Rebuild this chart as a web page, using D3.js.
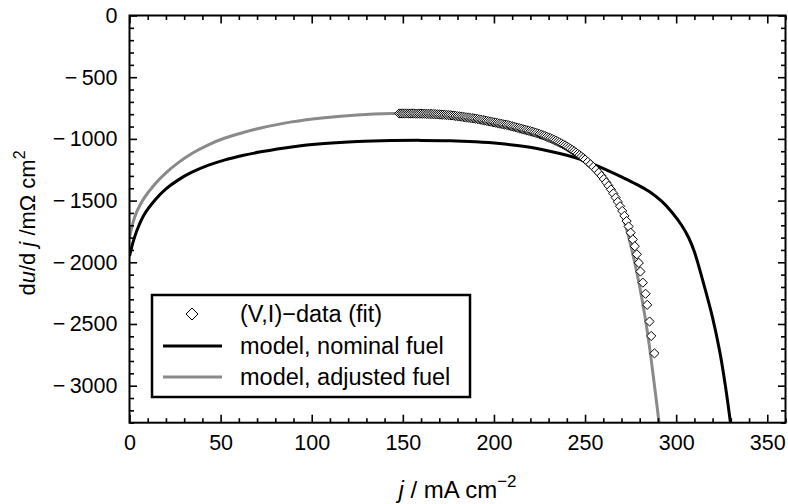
<!DOCTYPE html>
<html><head><meta charset="utf-8">
<script src="https://cdn.jsdelivr.net/npm/d3@7"></script>
<style>body{margin:0;background:#fff}svg{display:block}text{font-family:"Liberation Sans",Arial,sans-serif}</style>
</head><body>
<svg id="c" width="788" height="504"></svg>
<script>
// ---- data ----
const nominalJ = [0, 2, 4, 8, 14, 20, 27, 34, 43, 52, 62, 72, 89, 107, 125, 144, 160, 176, 190, 203, 217, 230, 240, 247, 255, 262, 270, 278, 285, 292, 298, 303, 307, 310, 315, 320, 324, 327, 329.8, 331];
const nominalV = [-1950, -1835, -1745, -1615, -1495, -1405, -1330, -1272, -1215, -1172, -1135, -1105, -1065, -1038, -1022, -1014, -1012, -1015, -1024, -1038, -1062, -1098, -1133, -1163, -1208, -1253, -1308, -1366, -1425, -1505, -1600, -1700, -1805, -1915, -2170, -2450, -2730, -3000, -3300, -3450];
const adjustedJ = [0, 2, 4, 8, 14, 20, 27, 34, 43, 52, 62, 72, 89, 107, 125, 144, 160, 176, 190, 203, 215, 225, 235, 242, 248, 253, 258, 263, 268, 272, 276, 280, 283, 285.5, 287.5, 289.2, 290.6, 292];
const adjustedV = [-1800, -1675, -1590, -1480, -1365, -1275, -1190, -1120, -1050, -995, -950, -912, -862, -828, -806, -795, -795, -806, -833, -870, -912, -960, -1025, -1085, -1150, -1220, -1300, -1400, -1520, -1690, -1920, -2200, -2450, -2700, -2930, -3130, -3300, -3480];
const dataJ = [148,149,150,151,152,153,154,155,156,157,158,159,160,161,162,163,164,165,166,167,168,169,170,171,172,173,174,175,176,177,178,179,180,181,182,183,184,185,186,187,188,189,190,191,192,193,194,195,196,197,198,199,200,201,202,203,204,205,206,207,208,209,210,211,212,213,214,215,216,217,218,219,220,221,222,223,224,225,226,227,228,229,230,231,232,233,234,235,236,237,238,239,240,241,242,243,244,245,246,247,248,249,250,251.5,253,254.5,256,257.5,259,260.3,261.6,262.9,264.2,265.5,266.8,268,269.2,270.4,271.6,272.8,273.9,275,276.2,277.3,278.4,279.5,280.4,281.7,283.2,284.1,285.4,286.3,288.1];
const dataV = [-794,-794,-794,-794,-794,-794,-794,-794,-794,-795,-795,-795,-795,-796,-796,-797,-797,-798,-798,-799,-800,-801,-802,-803,-804,-805,-806,-807,-808,-810,-812,-814,-816,-818,-820,-822,-824,-826,-828,-830,-832,-834,-836,-839,-842,-845,-848,-851,-854,-857,-860,-863,-866,-869,-872,-875,-878,-881,-884,-887,-890,-894,-898,-902,-906,-910,-914,-918,-922,-926,-930,-934,-938,-942,-946,-951,-956,-961,-966,-971,-977,-983,-989,-995,-1001,-1008,-1015,-1022,-1029,-1037,-1045,-1053,-1062,-1071,-1080,-1090,-1100,-1110,-1121,-1132,-1143,-1155,-1167,-1186,-1206,-1227,-1250,-1274,-1300,-1325,-1352,-1380,-1410,-1442,-1476,-1510,-1546,-1584,-1624,-1666,-1710,-1760,-1815,-1870,-1935,-2005,-2075,-2165,-2255,-2345,-2480,-2597,-2738];
const xMajor = [0, 50, 100, 150, 200, 250, 300, 350];
const yMajor = [0, -500, -1000, -1500, -2000, -2500, -3000];
const legendLabels = ["(V,I)\u2212data (fit)", "model, nominal fuel", "model, adjusted fuel"];

// ---- layout ----
const svg = d3.select("#c");
const L = 129.5, R = 785.5, T = 15.5, B = 422.7;
const x = d3.scaleLinear([0, 360], [L, R]);
const y = d3.scaleLinear([-3300, 0], [B, T]);
const xMinor = d3.range(0, 361, 10).filter(v => v % 50 !== 0);
const yMinor = d3.range(-3300, 1, 100).filter(v => v % 500 !== 0);
const fmt = d => d < 0 ? "\u2212\u2009" + Math.abs(d) : String(d);

svg.append("defs").append("clipPath").attr("id", "clip")
  .append("rect").attr("x", L).attr("y", T).attr("width", R - L).attr("height", B - T);

// curves
const line = d3.line().x(d => x(d[0])).y(d => y(d[1])).curve(d3.curveCatmullRom.alpha(0.5));
const g = svg.append("g").attr("clip-path", "url(#clip)");
g.append("path").datum(nominalJ.map((j, i) => [j, nominalV[i]]))
  .attr("d", line).attr("fill", "none").attr("stroke", "#000").attr("stroke-width", 3);
g.append("path").datum(adjustedJ.map((j, i) => [j, adjustedV[i]]))
  .attr("d", line).attr("fill", "none").attr("stroke", "#8a8a8a").attr("stroke-width", 3);

const dia = s => `M0,${-s}L${s},0L0,${s}L${-s},0Z`;
g.selectAll("path.pt").data(dataJ.map((j, i) => [j, dataV[i]])).join("path")
  .attr("class", "pt").attr("d", dia(4.6))
  .attr("transform", d => `translate(${x(d[0])},${y(d[1])})`)
  .attr("fill", "#fff").attr("stroke", "#000").attr("stroke-width", 1);

// axes
function ax(gen, tr, vals, size, labels, pad) {
  const a = svg.append("g").attr("transform", tr)
    .call(gen.tickValues(vals).tickSize(size).tickSizeOuter(0).tickPadding(pad || 8)
      .tickFormat(labels ? fmt : () => ""));
  a.select(".domain").remove();
  a.selectAll(".tick line").attr("stroke", "#000").attr("stroke-width", 1.6);
  a.selectAll("text").attr("font-size", 21.5).attr("fill", "#000").attr("font-family", "Liberation Sans, Arial, sans-serif");
  return a;
}
ax(d3.axisBottom(x), `translate(0,${B})`, xMajor, -8, true, 12);
ax(d3.axisBottom(x), `translate(0,${B})`, xMinor, -4.5, false);
ax(d3.axisTop(x), `translate(0,${T})`, xMajor, -8, false);
ax(d3.axisTop(x), `translate(0,${T})`, xMinor, -4.5, false);
ax(d3.axisLeft(y), `translate(${L},0)`, yMajor, -7.5, true, 12);
ax(d3.axisLeft(y), `translate(${L},0)`, yMinor, -4.5, false);
ax(d3.axisRight(y), `translate(${R},0)`, yMajor, -7.5, false);
ax(d3.axisRight(y), `translate(${R},0)`, yMinor, -4.5, false);

svg.append("rect").attr("x", L).attr("y", T).attr("width", R - L).attr("height", B - T)
  .attr("fill", "none").attr("stroke", "#000").attr("stroke-width", 2);

// axis titles
const xt = svg.append("text").attr("x", (L + R) / 2).attr("y", 498).attr("text-anchor", "middle").attr("font-size", 24);
xt.append("tspan").attr("font-style", "italic").text("j");
xt.append("tspan").text(" / mA cm");
xt.append("tspan").attr("dy", -11).attr("font-size", 17).text("\u22122");

const yt = svg.append("text").attr("transform", "translate(35,223) rotate(-90)").attr("text-anchor", "middle").attr("font-size", 22);
yt.append("tspan").text("d");
yt.append("tspan").attr("font-style", "italic").text("u");
yt.append("tspan").text("/d ");
yt.append("tspan").attr("font-style", "italic").text("j");
yt.append("tspan").text(" /m\u03A9 cm");
yt.append("tspan").attr("dy", -10).attr("font-size", 16).text("2");

// legend
const lg = svg.append("g");
lg.append("rect").attr("x", 152).attr("y", 295).attr("width", 318).attr("height", 102)
  .attr("fill", "#fff").attr("stroke", "#000").attr("stroke-width", 2.5);
const rows = [314, 346, 377];
lg.append("path").attr("d", dia(6)).attr("transform", `translate(192,${rows[0]})`)
  .attr("fill", "#fff").attr("stroke", "#000").attr("stroke-width", 1);
lg.append("line").attr("x1", 163).attr("x2", 222).attr("y1", rows[1]).attr("y2", rows[1]).attr("stroke", "#000").attr("stroke-width", 3);
lg.append("line").attr("x1", 163).attr("x2", 222).attr("y1", rows[2]).attr("y2", rows[2]).attr("stroke", "#8a8a8a").attr("stroke-width", 3);
legendLabels.forEach((t, i) => lg.append("text").attr("x", 240).attr("y", rows[i]).attr("dy", "0.35em").attr("font-size", 23.5).text(t));
</script>
</body></html>
